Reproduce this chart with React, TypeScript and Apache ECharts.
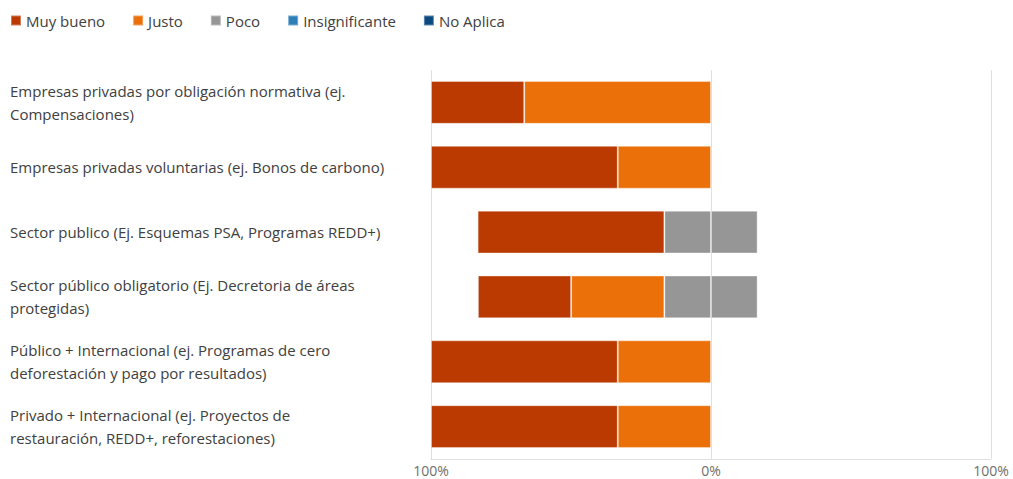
import React, { useEffect, useRef } from "react";
import * as echarts from "echarts";

const categories = [
  "Empresas privadas por obligación normativa (ej.\nCompensaciones)",
  "Empresas privadas voluntarias (ej. Bonos de carbono)",
  "Sector publico (Ej. Esquemas PSA, Programas REDD+)",
  "Sector público obligatorio (Ej. Decretoria de áreas\nprotegidas)",
  "Público + Internacional (ej. Programas de cero\ndeforestación y pago por resultados)",
  "Privado + Internacional (ej. Proyectos de\nrestauración, REDD+, reforestaciones)",
];

const muyBueno = [33.3, 66.7, 66.7, 33.3, 66.7, 66.7];
const justo = [66.7, 33.3, 0, 33.3, 33.3, 33.3];
const poco = [0, 0, 33.3, 33.3, 0, 0];
const insignificante = [0, 0, 0, 0, 0, 0];
const noAplica = [0, 0, 0, 0, 0, 0];

const xTicks = { min: -100, max: 100, interval: 100 };

const colors = {
  muyBueno: "#BB3A02",
  justo: "#EB7009",
  poco: "#969696",
  insignificante: "#2E7EB8",
  noAplica: "#0A4A80",
};

const FONT = "'Open Sans', 'Noto Sans', sans-serif";

function neg(arr: number[], f = 1) {
  return arr.map((v) => (v === 0 ? null : -v * f));
}
function pos(arr: number[], f = 1) {
  return arr.map((v) => (v === 0 ? null : v * f));
}

export default function App() {
  const ref = useRef<HTMLDivElement>(null);
  useEffect(() => {
    if (!ref.current) return;
    const chart = echarts.init(ref.current, undefined, { renderer: "svg" });
    const barStyle = (c: string) => ({
      color: c,
      borderColor: "rgba(255,255,255,0.35)",
      borderWidth: 1,
    });
    const common = {
      type: "bar",
      stack: "total",
      barWidth: "66%",
      emphasis: { disabled: true },
    };
    chart.setOption({
      animation: false,
      textStyle: { fontFamily: FONT },
      legend: {
        left: 5,
        top: 8,
        icon: "rect",
        itemWidth: 10,
        itemHeight: 10,
        itemGap: 27,
        textStyle: { fontSize: 15, color: "#404040", fontFamily: FONT },
        data: ["Muy bueno", "Justo", "Poco", "Insignificante", "No Aplica"],
      },
      grid: { left: 431, right: 22, top: 70, bottom: 20, containLabel: false },
      xAxis: {
        type: "value",
        min: xTicks.min,
        max: xTicks.max,
        interval: xTicks.interval,
        axisLine: { show: true, lineStyle: { color: "#E0E0E0" } },
        axisTick: { show: false },
        splitLine: { show: true, lineStyle: { color: "#E0E0E0" } },
        axisLabel: {
          color: "#6E6E6E",
          fontSize: 14,
          margin: 4,
          fontFamily: FONT,
          formatter: (v: number) => Math.abs(v) + "%",
        },
      },
      yAxis: {
        type: "category",
        inverse: true,
        data: categories,
        axisLine: { show: false },
        axisTick: { show: false },
        axisLabel: {
          align: "left",
          margin: 421,
          color: "#404040",
          fontSize: 15,
          lineHeight: 23,
          fontFamily: FONT,
        },
      },
      series: [
        { ...common, name: "Poco", data: neg(poco, 0.5), itemStyle: barStyle(colors.poco) },
        { ...common, name: "Justo", data: neg(justo), itemStyle: barStyle(colors.justo) },
        { ...common, name: "Muy bueno", data: neg(muyBueno), itemStyle: barStyle(colors.muyBueno) },
        { ...common, name: "Poco", data: pos(poco, 0.5), itemStyle: barStyle(colors.poco) },
        { ...common, name: "Insignificante", data: pos(insignificante), itemStyle: barStyle(colors.insignificante) },
        { ...common, name: "No Aplica", data: pos(noAplica), itemStyle: barStyle(colors.noAplica) },
      ],
    });
    return () => chart.dispose();
  }, []);
  return <div ref={ref} style={{ width: 1013, height: 479, position: "absolute", left: 0, top: 0 }} />;
}
